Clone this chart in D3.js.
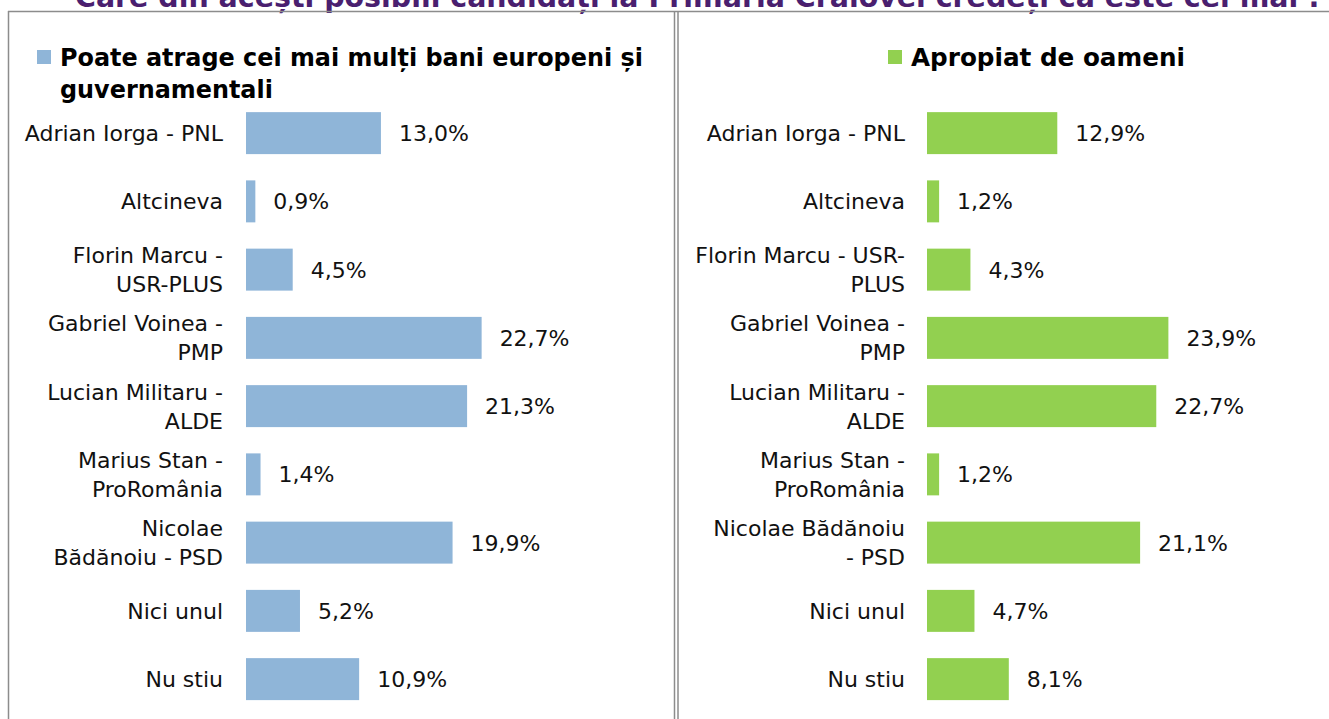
<!DOCTYPE html>
<html>
<head>
<meta charset="utf-8">
<script src="https://cdn.jsdelivr.net/npm/d3@7"></script>
<style>
  body { margin: 0; background: #fff; }
  svg text { font-family: "DejaVu Sans", "Open Sans", sans-serif; }
</style>
</head>
<body>
<div id="chart"></div>
<script>
// chart data
let title = "Care din acești posibili candidați la Primăria Craiovei credeți că este cel mai :";
let categories = ["Adrian Iorga - PNL", "Altcineva", "Florin Marcu - USR-PLUS", "Gabriel Voinea - PMP",
  "Lucian Militaru - ALDE", "Marius Stan - ProRomânia", "Nicolae Bădănoiu - PSD", "Nici unul", "Nu stiu"];

// how each label wraps in the two panels
let leftLabelLines = [["Adrian Iorga - PNL"], ["Altcineva"], ["Florin Marcu -", "USR-PLUS"],
  ["Gabriel Voinea -", "PMP"], ["Lucian Militaru -", "ALDE"], ["Marius Stan -", "ProRomânia"],
  ["Nicolae", "Bădănoiu - PSD"], ["Nici unul"], ["Nu stiu"]];
let rightLabelLines = [["Adrian Iorga - PNL"], ["Altcineva"], ["Florin Marcu - USR-", "PLUS"],
  ["Gabriel Voinea -", "PMP"], ["Lucian Militaru -", "ALDE"], ["Marius Stan -", "ProRomânia"],
  ["Nicolae Bădănoiu", "- PSD"], ["Nici unul"], ["Nu stiu"]];

let leftSeriesName = ["Poate atrage cei mai mulți bani europeni și", "guvernamentali"];
let rightSeriesName = ["Apropiat de oameni"];
let leftValues = [13.0, 0.9, 4.5, 22.7, 21.3, 1.4, 19.9, 5.2, 10.9];
let rightValues = [12.9, 1.2, 4.3, 23.9, 22.7, 1.2, 21.1, 4.7, 8.1];

let svgWidth = 1329;
let svgHeight = 719;

let svg = d3.select("#chart")
  .append("svg")
  .attr("width", svgWidth)
  .attr("height", svgHeight);

// shrink / grow a text so it covers a given width
function fitWidth(sel, target) {
  let fs = +sel.attr("font-size");
  let w = sel.node().getComputedTextLength();
  sel.attr("font-size", (fs * target / w).toFixed(2));
}

// title (cut off by the top of the picture)
let titleText = svg.append("text")
  .attr("x", 75)
  .attr("y", 7)
  .attr("font-size", 30)
  .attr("font-weight", "bold")
  .attr("fill", "#4a1f6f")
  .text(title);
fitWidth(titleText, 1245);

// frame lines
let frame = svg.append("g").attr("stroke", "#8c8c8c").attr("stroke-width", 1.5).attr("fill", "none");
frame.append("line").attr("x1", 8).attr("x2", svgWidth).attr("y1", 11.5).attr("y2", 11.5);
frame.append("line").attr("x1", 8.5).attr("x2", 8.5).attr("y1", 11).attr("y2", svgHeight);
frame.append("line").attr("x1", 674.5).attr("x2", 674.5).attr("y1", 11).attr("y2", svgHeight);
frame.append("line").attr("x1", 678).attr("x2", 678).attr("y1", 11).attr("y2", svgHeight);

let y = d3.scaleBand()
  .domain(categories)
  .range([99, 713.25])
  .paddingInner(0.385)
  .paddingOuter(0.1925);

function drawPanel(opts) {
  let g = svg.append("g");

  let x = d3.scaleLinear()
    .domain([0, 25])
    .range([opts.x0, opts.x0 + opts.pxPer * 25]);

  // legend
  g.append("rect")
    .attr("x", opts.legendX)
    .attr("y", 50)
    .attr("width", 14)
    .attr("height", 14)
    .attr("fill", opts.color);

  let legendText = g.append("text")
    .attr("x", opts.legendX + 23)
    .attr("y", 66)
    .attr("font-size", 22)
    .attr("font-weight", "bold")
    .attr("fill", "#000")
    .text(opts.seriesName[0]);
  fitWidth(legendText, opts.legendWidth);

  if (opts.seriesName.length > 1) {
    g.append("text")
      .attr("x", opts.legendX + 23)
      .attr("y", 98)
      .attr("font-size", legendText.attr("font-size"))
      .attr("font-weight", "bold")
      .attr("fill", "#000")
      .text(opts.seriesName[1]);
  }

  // bars
  g.append("g")
    .selectAll("rect")
    .data(opts.values)
    .enter()
    .append("rect")
    .attr("x", x(0))
    .attr("y", (d, i) => y(categories[i]))
    .attr("width", d => x(d) - x(0))
    .attr("height", y.bandwidth())
    .attr("fill", opts.color);

  // value labels
  g.append("g")
    .selectAll("text")
    .data(opts.values)
    .enter()
    .append("text")
    .attr("x", d => x(d) + 18)
    .attr("y", (d, i) => y(categories[i]) + y.bandwidth() / 2)
    .attr("dy", "0.36em")
    .attr("font-size", 22)
    .attr("fill", "#111")
    .text(d => d.toFixed(1).replace(".", ",") + "%");

  // category labels
  let labels = g.append("g")
    .selectAll("text")
    .data(opts.labelLines)
    .enter()
    .append("text")
    .attr("text-anchor", "end")
    .attr("font-size", 22)
    .attr("fill", "#111")
    .attr("y", (d, i) => y(categories[i]) + y.bandwidth() / 2);

  labels.selectAll("tspan")
    .data(d => d.map((t, j) => ({ t: t, j: j, n: d.length })))
    .enter()
    .append("tspan")
    .attr("x", opts.labelX)
    .attr("dy", d => d.j === 0 ? (0.36 - (d.n - 1) * 0.66) + "em" : "1.32em")
    .text(d => d.t);
}

drawPanel({
  x0: 246, pxPer: 10.38, color: "#8fb5d8", labelX: 223, legendX: 37, legendWidth: 583,
  values: leftValues, labelLines: leftLabelLines, seriesName: leftSeriesName
});

drawPanel({
  x0: 927, pxPer: 10.1, color: "#92d050", labelX: 905, legendX: 888, legendWidth: 274,
  values: rightValues, labelLines: rightLabelLines, seriesName: rightSeriesName
});
</script>
</body>
</html>
